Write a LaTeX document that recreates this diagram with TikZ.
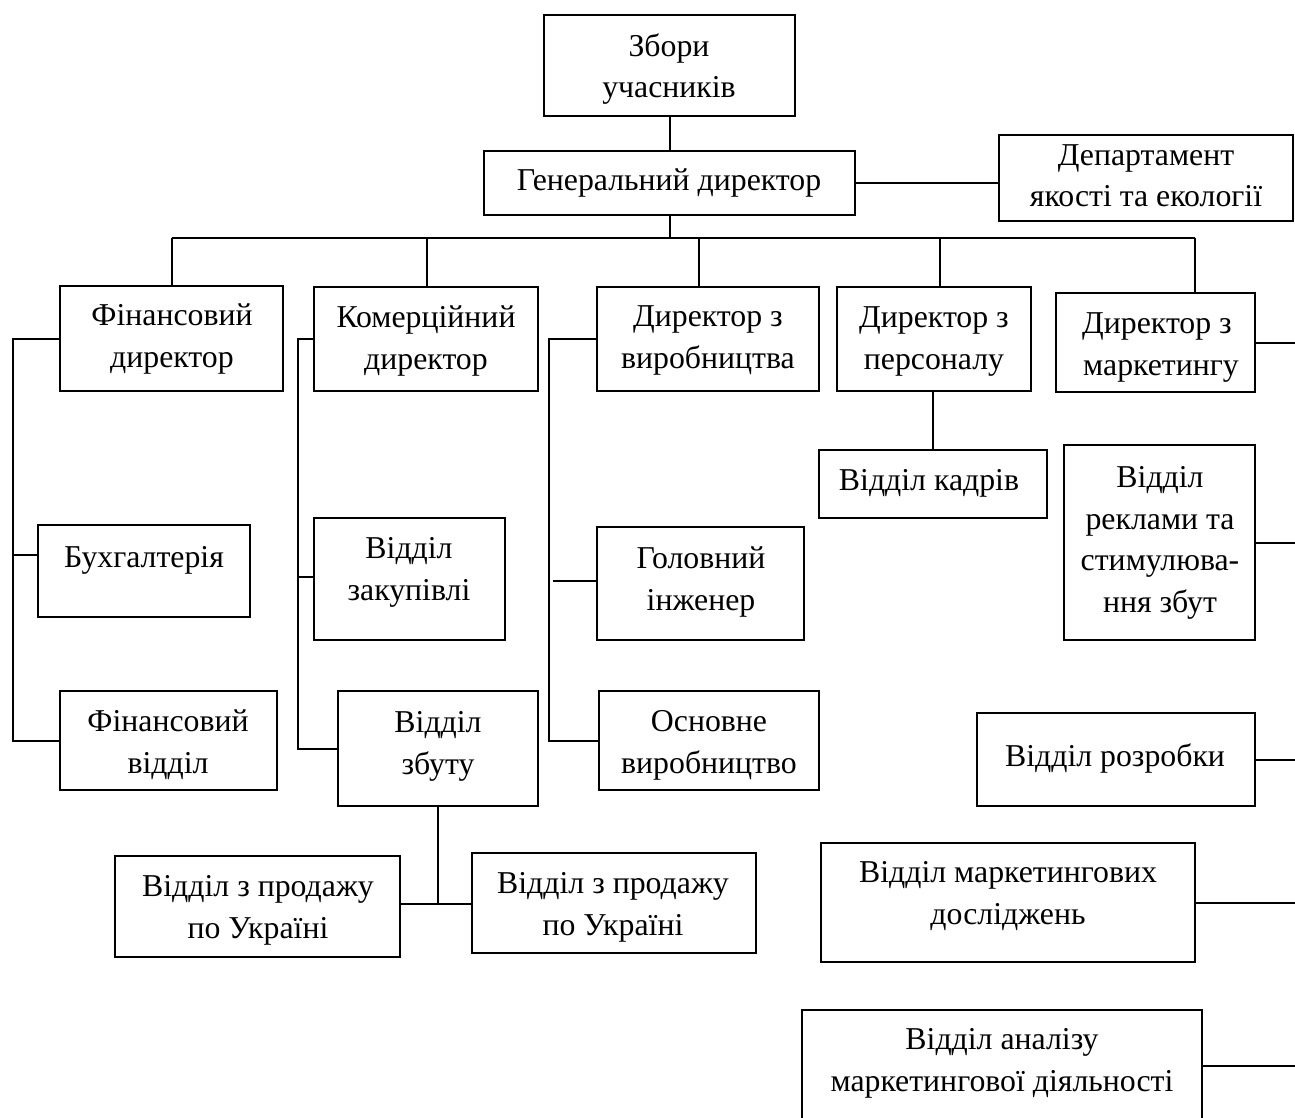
\documentclass[tikz,border=0pt]{standalone}
\usepackage{fontspec}
\setmainfont{Liberation Serif}
\usetikzlibrary{fit}
\begin{document}
\begin{tikzpicture}[x=0.5pt,y=-0.5pt,
  box/.style={draw, line width=1pt, inner sep=0pt, fit={#1}},
  txt/.style={font=\fontsize{15.9}{20.75}\selectfont, align=center, inner sep=0pt, anchor=base},
  ln/.style={line width=1pt}]
\useasboundingbox (0,0) rectangle (1295,1118);
% boxes
\node[box={(544,15) (795,116)}] (zu) {};
\node[box={(484,151) (855,215)}] (gen) {};
\node[box={(999,135) (1293,221)}] (dep) {};
\node[box={(60,286) (283,391)}] (fd) {};
\node[box={(314,287) (538,391)}] (kd) {};
\node[box={(597,287) (819,391)}] (vd) {};
\node[box={(837,287) (1031,391)}] (pd) {};
\node[box={(1056,293) (1255,392)}] (md) {};
\node[box={(819,450) (1047,518)}] (kad) {};
\node[box={(1064,445) (1255,640)}] (rek) {};
\node[box={(38,525) (250,617)}] (bh) {};
\node[box={(314,518) (505,640)}] (zak) {};
\node[box={(597,527) (804,640)}] (gi) {};
\node[box={(60,691) (277,790)}] (fv) {};
\node[box={(338,691) (538,806)}] (zb) {};
\node[box={(599,691) (819,790)}] (ov) {};
\node[box={(977,713) (1255,806)}] (roz) {};
\node[box={(115,856) (400,957)}] (pl) {};
\node[box={(472,853) (756,953)}] (pr) {};
\node[box={(821,843) (1195,962)}] (dos) {};
\node[box={(802,1010) (1202,1130)}] (an) {};
% texts (anchor = baseline of the last line)
\node[txt] at (669,98) {Збори\\учасників};
\node[txt] at (669,191) {Генеральний директор};
\node[txt] at (1146,207) {Департамент\\якості та екології};
\node[txt] at (172,367) {Фінансовий\\директор};
\node[txt] at (426,369) {Комерційний\\директор};
\node[txt] at (708,368) {Директор з\\виробництва};
\node[txt] at (934,369) {Директор з\\персоналу};
\node[txt] at (1157,375) {Директор з\\\ маркетингу};
\node[txt] at (929,490) {Відділ кадрів};
\node[txt] at (1160,612) {Відділ\\реклами та\\стимулюва-\\ння збут};
\node[txt] at (144,567) {Бухгалтерія};
\node[txt] at (409,600) {Відділ\\закупівлі};
\node[txt] at (701,610) {Головний\\інженер};
\node[txt] at (168,773) {Фінансовий\\відділ};
\node[txt] at (438,774) {Відділ\\збуту};
\node[txt] at (709,773) {Основне\\виробництво};
\node[txt] at (1115,766) {Відділ розробки};
\node[txt] at (258,938) {Відділ з продажу\\по Україні};
\node[txt] at (613,935) {Відділ з продажу\\по Україні};
\node[txt] at (1008,924) {Відділ маркетингових\\досліджень};
\node[txt] at (1002,1091) {Відділ аналізу\\маркетингової діяльності};
% connectors
\coordinate (busL) at (172,238);
\coordinate (busR) at (1195,238);
\coordinate (d2) at (427,238);
\coordinate (d3) at (699,238);
\coordinate (d4) at (940,238);
\coordinate (fx) at (13,0);
\coordinate (kx) at (298,0);
\coordinate (vx) at (549,0);
\coordinate (rx) at (1295,0);
\coordinate (zbj) at (438,904);
\draw[ln] (zu.south) -- (gen.north);
\draw[ln] (gen.east) -- (gen.east -| dep.west);
\draw[ln] (gen.south) -- (gen.south |- busL);
\draw[ln] (busL) -- (busR);
\draw[ln] (busL) -- (busL |- fd.north);
\draw[ln] (d2) -- (d2 |- kd.north);
\draw[ln] (d3) -- (d3 |- vd.north);
\draw[ln] (d4) -- (d4 |- pd.north);
\draw[ln] (busR) -- (busR |- md.north);
\draw[ln] (fd.west) -- (fd.west -| fx) -- (fv.west -| fx) -- (fv.west);
\draw[ln] (fx |- 0,555) -- (bh.west |- 0,555);
\draw[ln] (kd.west) -- (kd.west -| kx) -- (zb.west -| kx) -- (zb.west);
\draw[ln] (kx |- 0,577) -- (zak.west |- 0,577);
\draw[ln] (vd.west) -- (vd.west -| vx) -- (ov.west -| vx) -- (ov.west);
\draw[ln] (553,581) -- (gi.west |- 0,581);
\draw[ln] (pd.south -| kad.north) -- (kad.north);
\draw[ln] (zb.south) -- (zbj);
\draw[ln] (pl.east |- zbj) -- (pr.west |- zbj);
\draw[ln] (md.east) -- (md.east -| rx);
\draw[ln] (rek.east) -- (rek.east -| rx);
\draw[ln] (roz.east) -- (roz.east -| rx);
\draw[ln] (dos.east) -- (dos.east -| rx);
\draw[ln] (an.east |- 0,1066) -- (rx |- 0,1066);
\end{tikzpicture}
\end{document}
